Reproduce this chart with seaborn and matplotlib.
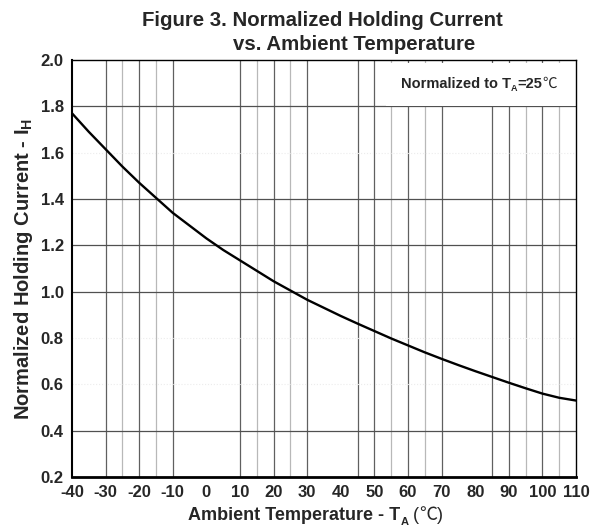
import matplotlib
matplotlib.use("Agg")
import matplotlib.pyplot as plt
import pandas as pd
import seaborn as sns
from matplotlib.patches import Rectangle

# curve
temps = [-40, -35, -30, -25, -20, -15, -10, -5, 0, 5, 10, 15, 20, 25, 30, 35,
         40, 45, 50, 55, 60, 65, 70, 75, 80, 85, 90, 95, 100, 105, 110]
ih_norm = [1.77, 1.69, 1.615, 1.54, 1.47, 1.405, 1.34, 1.285, 1.23, 1.18, 1.135,
           1.09, 1.045, 1.005, 0.965, 0.93, 0.895, 0.862, 0.83, 0.798, 0.768,
           0.738, 0.71, 0.683, 0.657, 0.632, 0.607, 0.583, 0.56, 0.542, 0.53]

x_ticks = list(range(-40, 111, 10))
y_ticks = [0.2, 0.4, 0.6, 0.8, 1.0, 1.2, 1.4, 1.6, 1.8, 2.0]
v_grid_dark = [-30, -20, -10, 10, 20, 30, 45, 50, 60, 70, 85, 90, 100]
v_grid_light = [-25, -15, 15, 25, 55, 65, 95, 105]
h_grid = [0.4, 1.0, 1.2, 1.4, 1.8]
h_grid_faint = [0.6, 0.8, 1.6]

W, H = 590, 529
BOLD = ["Liberation Sans", "DejaVu Sans"]
CJK = ["Noto Sans CJK SC", "DejaVu Sans"]

sns.set_style("white")
plt.rcParams["font.family"] = BOLD
plt.rcParams["mathtext.fontset"] = "custom"
plt.rcParams["mathtext.rm"] = "Liberation Sans:bold"
plt.rcParams["mathtext.it"] = "Liberation Sans:bold"

df = pd.DataFrame({"temp": temps, "ih": ih_norm})

fig = plt.figure(figsize=(W / 100, H / 100), dpi=100)
ax = fig.add_axes([72 / W, 1 - 477 / H, 504 / W, 417 / H])
renderer = fig.canvas.get_renderer()


def chain_text(x_px, base_px, parts):
    # lay text pieces left to right, each starting where the last one ended
    for s, size, family, weight, dy in parts:
        t = fig.text(x_px / W, 1 - (base_px - dy) / H, s, fontsize=size,
                     family=family, fontweight=weight, ha="left", va="baseline")
        x_px = t.get_window_extent(renderer).x1


for t in v_grid_dark:
    ax.axvline(t, color="#606060", lw=0.9, zorder=1)
for t in v_grid_light:
    ax.axvline(t, color="#b8b8b8", lw=0.9, zorder=1)
for v in h_grid:
    ax.axhline(v, color="#505050", lw=0.9, zorder=1)
for v in h_grid_faint:
    ax.axhline(v, color="#ececec", lw=0.8, ls=":", zorder=1)

# white label box over the grid, top-right corner
ax.add_patch(Rectangle((53.5, 1.8), 56.5, 0.185, facecolor="white",
                       edgecolor="none", zorder=2))

sns.lineplot(data=df, x="temp", y="ih", color="black", lw=1.7, ax=ax, zorder=4)

ax.set_xlim(-40, 110)
ax.set_ylim(0.2, 2.0)
ax.set_xticks(x_ticks)
ax.set_yticks(y_ticks)
ax.set_xticklabels([str(t) for t in x_ticks], fontsize=12, fontweight="bold")
ax.set_yticklabels([f"{v:.1f}" for v in y_ticks], fontsize=12, fontweight="bold")
ax.tick_params(length=0, pad=6)
ax.set_xlabel("")
ax.set_ylabel(r"Normalized Holding Current - I$_\mathregular{H}$", fontsize=14.5,
              fontweight="bold", labelpad=4)

for side, sp in ax.spines.items():
    sp.set_color("black")
    sp.set_linewidth(1.0)
ax.spines["bottom"].set_linewidth(2.0)
ax.spines["left"].set_linewidth(1.5)

chain_text(401, 88, [
    ("Normalized to T", 10.5, BOLD, "bold", 0),
    ("A", 6.5, BOLD, "bold", -3),
    ("=25", 10.5, BOLD, "bold", 0),
    ("\u2103", 10.5, CJK, "normal", 0),
])

chain_text(188, 520, [
    ("Ambient Temperature - T", 13, BOLD, "bold", 0),
    ("A", 8, BOLD, "bold", -5),
    (" (", 13, BOLD, "normal", 0),
    ("\u2103", 13, CJK, "normal", 0),
    (")", 13, BOLD, "normal", 0),
])

fig.text(322 / W, 1 - 20 / H, "Figure 3. Normalized Holding Current", ha="center",
         va="center", fontsize=14.7, fontweight="bold")
fig.text(354 / W, 1 - 44 / H, "vs. Ambient Temperature", ha="center", va="center",
         fontsize=14.7, fontweight="bold")

fig.savefig("out.png", dpi=100)
